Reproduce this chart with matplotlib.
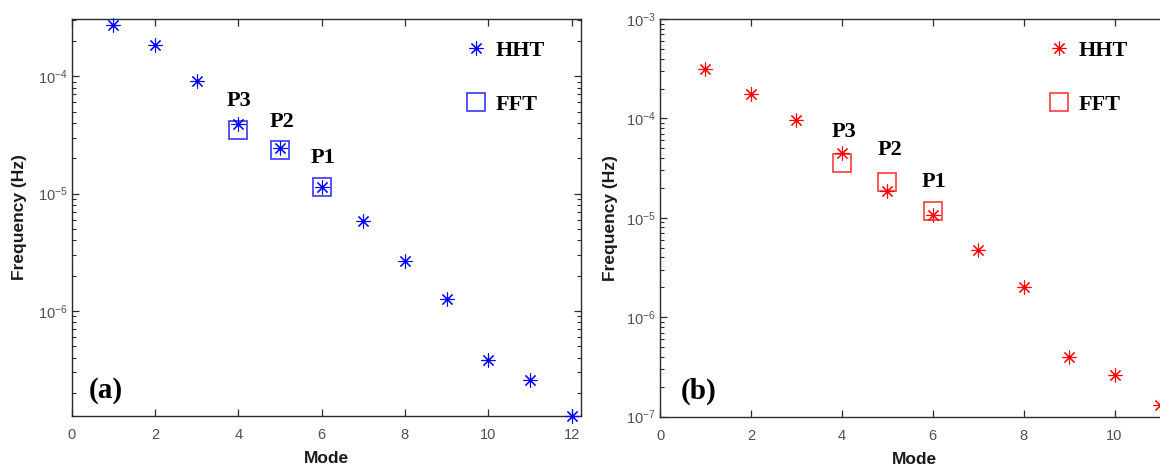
import matplotlib
matplotlib.use("Agg")
import matplotlib.pyplot as plt
from matplotlib.ticker import LogLocator, NullFormatter, MultipleLocator

plt.rcParams["font.family"] = ["Liberation Sans", "DejaVu Sans"]
plt.rcParams["mathtext.fontset"] = "custom"
plt.rcParams["mathtext.rm"] = "Liberation Sans"

# Panel (a): modes 1-12
modes_a = [1, 2, 3, 4, 5, 6, 7, 8, 9, 10, 11, 12]
hht_a = [2.73e-4, 1.84e-4, 9.18e-5, 3.92e-5, 2.43e-5, 1.13e-5,
         5.83e-6, 2.67e-6, 1.27e-6, 3.82e-7, 2.55e-7, 1.27e-7]
fft_modes_a = [4, 5, 6]
fft_a = [3.48e-5, 2.36e-5, 1.13e-5]

# Panel (b): modes 1-11
modes_b = [1, 2, 3, 4, 5, 6, 7, 8, 9, 10, 11]
hht_b = [3.14e-4, 1.77e-4, 9.7e-5, 4.5e-5, 1.88e-5, 1.07e-5,
         4.76e-6, 2.03e-6, 4.02e-7, 2.63e-7, 1.32e-7]
fft_modes_b = [4, 5, 6]
fft_b = [3.57e-5, 2.32e-5, 1.16e-5]

peak_names = ["P3", "P2", "P1"]
peak_x_a = [4.01, 5.04, 6.03]
peak_y_a = [5.58e-5, 3.72e-5, 1.81e-5]
peak_x_b = [4.05, 5.06, 6.02]
peak_y_b = [6.46e-5, 4.28e-5, 2.06e-5]

SPINE = "#2b2b2b"
TICKLAB = "#505050"
SERIF = dict(family="Liberation Serif", weight="bold")

fig = plt.figure(figsize=(11.6, 4.66), dpi=100)
ax_a = fig.add_axes([0.0618, 0.1073, 0.4388, 0.8519])
ax_b = fig.add_axes([0.5690, 0.1058, 0.4388, 0.8534])


def style_axes(ax, xlim, ylim, ylab_x):
    ax.set_yscale("log")
    ax.set_xlim(*xlim)
    ax.set_ylim(*ylim)
    ax.xaxis.set_major_locator(MultipleLocator(2))
    ax.yaxis.set_major_locator(LogLocator(base=10))
    ax.yaxis.set_minor_locator(LogLocator(base=10, subs=range(2, 10)))
    ax.yaxis.set_minor_formatter(NullFormatter())
    for s in ax.spines.values():
        s.set_color(SPINE)
        s.set_linewidth(1.0)
    ax.tick_params(which="both", direction="in", top=True, right=True,
                   color=SPINE, labelcolor=TICKLAB, labelsize=10.5)
    ax.tick_params(which="major", length=5, width=0.9)
    ax.tick_params(which="minor", length=3, width=0.8)
    ax.tick_params(axis="x", pad=9)
    ax.tick_params(axis="y", pad=3)
    ax.set_xlabel("Mode", fontsize=12.5, fontweight="bold", color="#1a1a1a")
    ax.set_ylabel("Frequency (Hz)", fontsize=12.5, fontweight="bold", color="#1a1a1a")
    ax.xaxis.set_label_coords(0.5, -0.088)
    ax.yaxis.set_label_coords(ylab_x, 0.5)


def draw(ax, modes, hht, fmodes, fft, color, sqcolor, px, py, tag, tagpos, leg_x):
    ax.plot(modes, hht, linestyle="none", marker=(8, 2, 0), markersize=10,
            markeredgewidth=0.8, color=color, label="HHT", clip_on=False, zorder=3)
    ax.plot(fmodes, fft, linestyle="none", marker="s", markersize=13,
            markerfacecolor="none", markeredgewidth=1.3, markeredgecolor=sqcolor,
            label="FFT", zorder=2)
    for name, x, y in zip(peak_names, px, py):
        ax.text(x, y, name, ha="center", va="baseline", fontsize=16, color="black", **SERIF)
    ax.text(tagpos[0], tagpos[1], tag, ha="center", va="baseline", fontsize=21,
            color="black", **SERIF)
    ax.legend(loc="upper left", bbox_to_anchor=(leg_x, 0.947), frameon=False,
              prop=dict(family="Liberation Serif", weight="bold", size=16),
              handlelength=0.8, handletextpad=0.5, labelspacing=1.52,
              borderpad=0, borderaxespad=0, numpoints=1)


style_axes(ax_a, (0, 12.22), (1.27e-7, 3.08e-4), -0.087)
draw(ax_a, modes_a, hht_a, fft_modes_a, fft_a, "#0000ff", "#4646ff",
     peak_x_a, peak_y_a, "(a)", (0.81, 1.81e-7), 0.777)

style_axes(ax_b, (0, 11.2), (1e-7, 1e-3), -0.0835)
draw(ax_b, modes_b, hht_b, fft_modes_b, fft_b, "#ff0000", "#ff4a4a",
     peak_x_b, peak_y_b, "(b)", (0.84, 1.53e-7), 0.766)

fig.savefig("out.png", dpi=100)
